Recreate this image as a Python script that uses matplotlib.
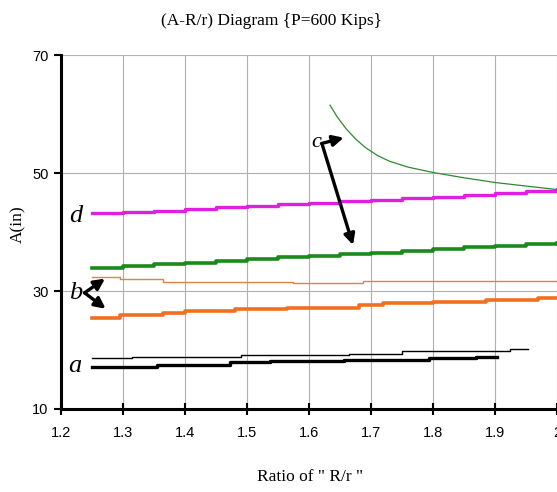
import numpy as np
import matplotlib
matplotlib.use("Agg")
from matplotlib import pyplot as plt

# curve d (magenta, thick)
d_x = [1.25, 1.30, 1.35, 1.40, 1.45, 1.50, 1.55, 1.60, 1.65, 1.70, 1.75, 1.80, 1.85, 1.90, 1.95, 2.00]
d_y = [43.2, 43.4, 43.6, 43.9, 44.2, 44.5, 44.8, 45.0, 45.2, 45.5, 45.7, 46.0, 46.3, 46.6, 47.0, 47.3]

# thick green
g_x = [1.25, 1.30, 1.35, 1.40, 1.45, 1.50, 1.55, 1.60, 1.65, 1.70, 1.75, 1.80, 1.85, 1.90, 1.95, 2.00]
g_y = [33.9, 34.2, 34.5, 34.8, 35.1, 35.4, 35.7, 36.0, 36.2, 36.5, 36.8, 37.1, 37.4, 37.7, 37.9, 38.1]

# curve c (thin green)
c_x = [1.634, 1.645, 1.66, 1.675, 1.69, 1.71, 1.73, 1.76, 1.80, 1.85, 1.90, 1.95, 2.00]
c_y = [61.5, 59.6, 57.5, 55.8, 54.4, 53.0, 52.0, 51.0, 50.1, 49.2, 48.4, 47.8, 47.2]

# b upper (thin orange)
bu_x = [1.25, 1.295, 1.365, 1.574, 1.687, 2.00]
bu_y = [32.3, 32.0, 31.6, 31.4, 31.7, 31.7]

# b lower (thick orange)
bl_x = [1.25, 1.295, 1.365, 1.40, 1.48, 1.565, 1.68, 1.72, 1.80, 1.885, 1.97, 2.00]
bl_y = [25.5, 25.9, 26.3, 26.6, 26.9, 27.2, 27.6, 28.0, 28.2, 28.5, 28.8, 28.8]

# a upper (thin black)
au_x = [1.25, 1.315, 1.49, 1.665, 1.75, 1.925, 1.953]
au_y = [18.6, 18.9, 19.2, 19.4, 19.8, 20.2, 20.2]

# a lower (thick black)
al_x = [1.25, 1.355, 1.473, 1.537, 1.657, 1.794, 1.87, 1.903]
al_y = [17.2, 17.5, 17.9, 18.1, 18.3, 18.6, 18.9, 18.9]

x_ticks = [1.2, 1.3, 1.4, 1.5, 1.6, 1.7, 1.8, 1.9, 2.0]
x_labels = ["1.2", "1.3", "1.4", "1.5", "1.6", "1.7", "1.8", "1.9", "2"]
y_ticks = [10, 30, 50, 70]

serif = ["Liberation Serif", "DejaVu Serif"]
narrow = ["Liberation Sans Narrow", "Liberation Sans", "DejaVu Sans"]

fig = plt.figure(figsize=(5.57, 4.92), dpi=100)
ax = fig.add_axes([0.1095, 0.1687, 0.8905, 0.7193])

ax.set_xlim(1.2, 2.0)
ax.set_ylim(10, 70)
ax.set_xticks(x_ticks)
ax.set_xticklabels(x_labels, family=narrow, fontsize=10.5)
ax.set_yticks(y_ticks)
ax.set_yticklabels([str(v) for v in y_ticks], family=narrow, fontsize=10.5)
ax.grid(True, color="#b0b0b0", lw=0.8)
ax.set_axisbelow(True)

for s in ["top", "right"]:
    ax.spines[s].set_visible(False)
for s in ["left", "bottom"]:
    ax.spines[s].set_linewidth(2.2)
ax.tick_params(axis="x", direction="inout", length=8, width=1.5, pad=8)
ax.tick_params(axis="y", direction="out", length=5, width=1.5, pad=4)

ax.plot(d_x, d_y, drawstyle="steps-post", color="#e020e0", lw=2.4)
ax.plot(g_x, g_y, drawstyle="steps-post", color="#1a8a1a", lw=2.6)
ax.plot(c_x, c_y, color="#2f8a2f", lw=0.9)
ax.plot(bu_x, bu_y, drawstyle="steps-post", color="#e0834a", lw=1.0)
ax.plot(bl_x, bl_y, drawstyle="steps-post", color="#f07020", lw=2.6)
ax.plot(au_x, au_y, drawstyle="steps-post", color="black", lw=1.0)
ax.plot(al_x, al_y, drawstyle="steps-post", color="black", lw=2.4)

lab_kw = dict(family=serif, style="italic", fontsize=19, ha="center", va="center")
ax.text(1.224, 42.8, "d", **lab_kw)
ax.text(1.224, 29.7, "b", **lab_kw)
ax.text(1.223, 17.3, "a", **lab_kw)
ax.text(1.611, 55.2, "c", fontsize=16, family=serif, style="italic", ha="center", va="center")

arr = dict(arrowstyle="-|>", color="black", lw=2.4, mutation_scale=16, shrinkA=0, shrinkB=0)
ax.annotate("", xy=(1.271, 32.1), xytext=(1.238, 29.7), arrowprops=arr)
ax.annotate("", xy=(1.272, 27.0), xytext=(1.238, 29.7), arrowprops=arr)
ax.annotate("", xy=(1.656, 56.0), xytext=(1.620, 55.0), arrowprops=arr)
ax.annotate("", xy=(1.671, 37.8), xytext=(1.622, 54.6), arrowprops=arr)

fig.text(0.487, 0.958, "(A-R/r) Diagram {P=600 Kips}", family=serif, fontsize=12.5,
         ha="center", va="center")
fig.text(0.557, 0.030, 'Ratio of " R/r "', family=serif, fontsize=12.5, ha="center", va="center")
fig.text(0.033, 0.545, "A(in)", family=serif, fontsize=12.5, rotation=90, ha="center", va="center")

fig.savefig("out.png", dpi=100)
